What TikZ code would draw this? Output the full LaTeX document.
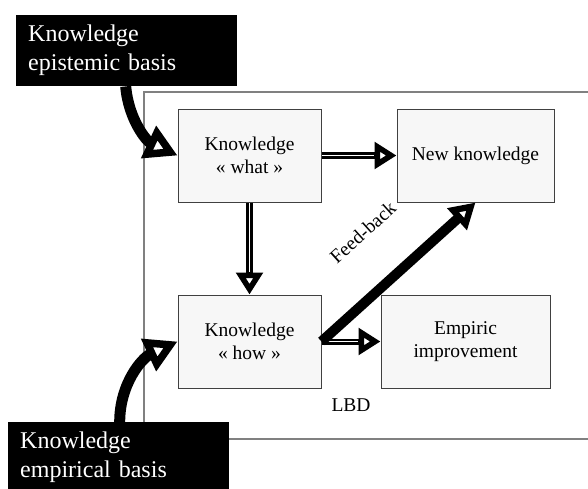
\documentclass[tikz,border=0pt]{standalone}
\usepackage{fontspec}
\setmainfont{Liberation Serif}
\usetikzlibrary{arrows.meta}
\definecolor{boxfill}{HTML}{F7F7F7}
\definecolor{boxline}{HTML}{404040}
\definecolor{frameline}{HTML}{808080}
\tikzset{
  stage/.style={draw=boxline, line width=1pt, fill=boxfill, align=center,
    font=\fontsize{19.5}{23}\selectfont, inner sep=0pt},
  source/.style={fill=black, text=white, align=left, anchor=north west,
    font=\fontsize{24}{29}\selectfont, text width=197pt, inner xsep=12pt,
    minimum width=221pt, minimum height=71pt},
  flow/.style={line width=7pt, -{Triangle[length=22pt, width=26pt, fill=white, line width=6.5pt]}},
  core/.style={draw=white, line width=1.5pt, shorten >=23pt, shorten <=0.5pt},
  push/.style={line width=11pt, -{Triangle[length=32pt, width=34pt, fill=white, line width=7.5pt]}},
}
\begin{document}
\begin{tikzpicture}[x=1pt, y=-1pt]
  \useasboundingbox (0,0) rectangle (588,488);
  \draw[frameline, line width=1.2pt] (144,92) rectangle (620,439);
  \node[stage, minimum width=143pt, minimum height=93pt] (what) at (249.5,155.5) {Knowledge\\« what »};
  \node[stage, minimum width=157pt, minimum height=93pt] (new) at (475.5,155.5) {New knowledge};
  \node[stage, minimum width=143pt, minimum height=93pt] (how) at (249.5,341.5) {Knowledge\\« how »};
  \node[stage, minimum width=169pt, minimum height=93pt] (emp) at (465.5,341.5) {Empiric\\improvement};
  \node[font=\fontsize{19.5}{23}\selectfont] (lbd) at (351,405) {LBD};
  \node[source] (epist) at (16,15) {Knowledge\\epistemic basis};
  \node[source] (empir) at (8,422) {Knowledge\\empirical basis};
  \begin{scope}
    \draw[flow] (what) to (new);
    \draw[flow] (what) to (how);
    \draw[flow, line width=6pt] (how) to (emp);
    \foreach \a/\b in {what/new, what/how, how/emp}
      \draw[core] (\a) to (\b);
    \draw[push] ([xshift=-1pt]epist.south) to[out=-85, in=155] (what.west);
    \draw[push] ([xshift=1pt]empir.north) to[out=90, in=-155] (how.west);
    \draw[line width=10pt, -{Triangle[length=25pt, width=28pt, fill=white, line width=6.5pt]}]
      (how.east) to node[sloped, above=38pt, font=\fontsize{19.5}{23}\selectfont] {Feed-back} (new.south);
  \end{scope}
\end{tikzpicture}
\end{document}
